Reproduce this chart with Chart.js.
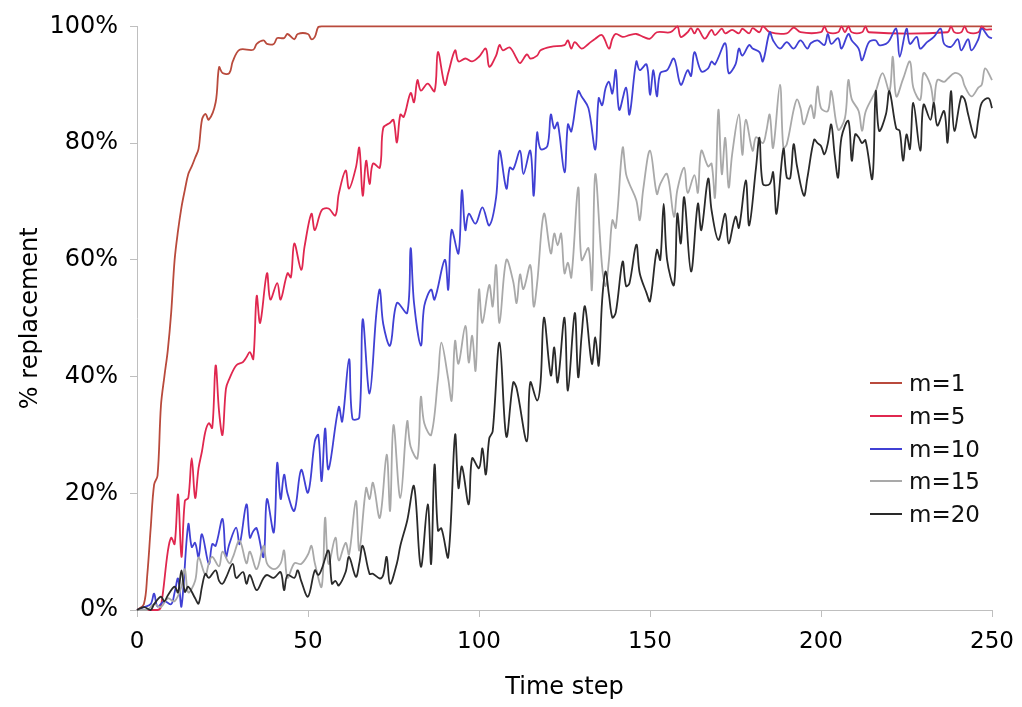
<!DOCTYPE html>
<html>
<head>
<meta charset="utf-8">
<script src="https://cdn.jsdelivr.net/npm/chart.js@4/dist/chart.umd.min.js"></script>
<style>
html,body{margin:0;padding:0;background:#fff;}
#wrap{position:relative;width:1022px;height:707px;overflow:hidden;}
#legend{position:absolute;left:870px;top:367px;font-family:"DejaVu Sans",sans-serif;font-size:23px;color:#111;}
.row{height:32.7px;display:flex;align-items:center;}
.sw{width:32px;height:2px;margin-right:7px;}
</style>
</head>
<body>
<div id="wrap"><canvas id="c" width="1022" height="707"></canvas><div id="legend"></div></div>
<script>
// ---- data (time step, % replacement) ----
const seriesLabels = ['m=1', 'm=5', 'm=10', 'm=15', 'm=20'];
const xTickValues = [0, 50, 100, 150, 200, 250];
const yTickLabels = ['0%', '20%', '40%', '60%', '80%', '100%'];

const m1 = [[0,0],[2,1],[3,6],[4,14],[5,21.5],[6,23],[7,35],[8,40],[9,44.5],[10,51],[11,60],[12,65],[13,69],[14,72],[15,74.7],[16,76],[17,77.5],[18,79],[19,84],[20,85],[21,84],[23,87],[24,93],[25,92],[27,92],[28,94],[30,96],[34,96],[35,97],[37,97.6],[38,97],[40,97],[41,98],[43,98],[44,98.7],[46,97.8],[47,98.7],[50,98.7],[51,97.8],[52,98.2],[53,99.9],[54,100],[250,100]];

const m5 = [[0,0],[6,0],[7,0.6],[9,10],[10,12.4],[11,11.3],[12,19.8],[13,9.1],[14,18.7],[15,19.2],[16,26],[17,19.2],[18,24.3],[19,27.2],[20,30.6],[21,32],[22,31.2],[23,41.9],[24,34],[25,30],[26,37.9],[27,39.6],[29,41.9],[31,42.5],[32,43.3],[33,44.2],[34,43],[35,53.8],[36,49.2],[38,57.7],[39,53.2],[41,56],[42,53.2],[44,57.7],[45,57],[46,62.8],[48,58.3],[49,62.3],[51,67.9],[52,65.1],[54,68.5],[56,68.8],[58,67.6],[59,71.3],[61,75.3],[62,72.2],[64,75.8],[65,79.2],[66,71],[67,77],[68,73],[69,76.5],[71,75.8],[72,82.6],[74,83.5],[75,84],[76,80.1],[77,84.9],[78,84.5],[80,88.6],[81,87],[82,90.8],[83,89],[85,90.2],[87,88.9],[88,95.6],[90,90],[91,92],[93,95.9],[94,94],[96,94.5],[98,94],[100,94.8],[102,96.2],[103,93.1],[105,95],[106,96.8],[107,95.9],[109,96.4],[111,94.5],[112,93.7],[114,95.2],[115,94.5],[117,95],[118,95.9],[121,96.5],[125,96.8],[126,97.6],[127,96.2],[128,97.3],[130,96.2],[132,97],[134,97.9],[136,98.5],[138,96.2],[139,97.9],[140,98.7],[142,98.2],[144,98.5],[146,98.7],[148,98.2],[150,97.9],[152,99],[156,99],[158,100],[159,98.2],[161,99],[162,99.7],[163,98.8],[164,99.6],[166,97.9],[168,99.4],[169,98.5],[171,99.6],[172,98.8],[174,99.4],[176,98.8],[177,99.6],[179,98.8],[180,99.7],[182,99],[183,100],[185,99],[190,98.8],[192,99.8],[194,99],[200,99],[201,100],[202,99],[205,99],[206,100],[207,99],[208,100],[209,99],[212,99],[213,100],[214,99],[237,99],[238,100],[239,99],[241,99],[242,100],[243,99],[246,99],[247,100],[248,99.5],[250,99.5]];

const m10 = [[0,0],[2,0.5],[4,1],[5,2.8],[6,0.6],[8,1.5],[10,1],[11,3],[12,5.4],[13,0.6],[15,14.7],[16,10.8],[17,11.5],[18,9.1],[19,13],[21,7.9],[22,11.3],[23,11],[25,15.6],[26,9.1],[27,11.3],[29,14.1],[30,11.3],[32,18.1],[33,12.4],[34,13.5],[35,14],[37,9.1],[38,19],[40,13.3],[41,25.2],[42,19],[43,23.2],[44,20],[46,17],[48,24],[50,20.1],[52,28.9],[53,30],[54,22.1],[55,31.1],[56,24.1],[59,34.8],[60,32.3],[62,43],[63,32.8],[65,33],[66,49.8],[68,37.1],[70,50.9],[71,54.9],[72,49],[74,45.3],[76,52.6],[79,50.9],[80,62],[81,52.6],[83,45.3],[84,52.1],[86,54.9],[87,53.2],[90,60],[91,54.9],[92,65.1],[94,61.1],[95,71.9],[96,65.1],[97,67.9],[99,66.2],[101,69],[103,65.9],[105,70.7],[106,78.7],[108,72.2],[109,75.8],[110,75.5],[112,78.7],[113,74.7],[115,78.7],[116,71],[117,81.8],[118,79],[120,79.5],[121,84.9],[122,82.5],[123,83.5],[125,75],[126,83.2],[127,82],[129,88.9],[130,88],[132,86],[134,78.9],[135,87.7],[136,86.5],[137,89.4],[138,90.5],[139,88.5],[140,92.5],[141,85.7],[143,89.5],[144,84.9],[146,94],[147,92.5],[149,93.5],[150,88.3],[151,92.5],[152,88],[153,92],[155,92.5],[157,94.5],[159,90],[161,92.5],[162,91.5],[163,95.6],[165,92.3],[167,92.8],[168,94],[169,93.5],[172,97.1],[173,92],[175,93.5],[176,96.2],[177,95],[179,96.8],[180,96.2],[182,95.6],[183,94],[185,99],[186,97.6],[188,96.2],[190,97.3],[192,96.2],[194,97.6],[196,96.2],[197,97.1],[199,97.6],[201,96.8],[202,98.7],[203,97],[205,98],[206,96.2],[208,98.7],[209,97.6],[211,96.2],[212,94.2],[214,97.3],[216,97.6],[217,96.8],[219,97],[220,97.6],[222,99.6],[223,94.8],[225,99.6],[226,97],[228,98.2],[229,96.2],[231,97.3],[233,98.2],[235,99.6],[236,97],[238,96.5],[240,97.8],[241,95.9],[243,97.8],[244,95.9],[246,97.8],[247,99.6],[249,98.2],[250,98]];

const m15 = [[0,0],[3,0],[5,1],[7,0.5],[9,2],[11,1.5],[13,4],[14,7],[15,3],[17,5],[18,9],[20,6],[21,8],[22,9.1],[24,7.5],[25,10],[27,8],[28,9],[30,11.9],[32,8],[33,10],[35,7],[37,11],[38,8],[40,7],[42,8],[43,10.2],[44,5.5],[46,8],[48,7.9],[50,9.5],[51,11],[52,8],[54,4],[55,15.8],[56,7.9],[58,12.4],[59,8.5],[61,11.5],[62,9.5],[64,18.7],[65,10.2],[67,20.9],[68,19],[69,21.8],[71,15.8],[73,26.6],[74,17],[75,31.7],[77,19.2],[79,32.3],[80,28],[82,26],[83,36.5],[84,32],[86,30],[88,39.6],[89,45.8],[91,39.6],[92,35.9],[93,46.1],[94,42.2],[96,48.7],[97,42.4],[98,47],[99,41],[100,54.9],[101,49.2],[103,55.7],[104,52],[105,59.1],[106,49.2],[108,60],[110,56.3],[111,52.6],[112,57.5],[113,55],[115,59.1],[116,52],[117,56],[119,67.9],[121,61.1],[122,64.5],[123,62.5],[124,64.5],[125,57.7],[126,59.5],[127,57],[129,72.4],[130,60],[132,62],[133,54.9],[134,74.7],[136,58.8],[137,55.5],[138,60],[139,66.8],[140,65.5],[142,79.2],[143,74.7],[144,73],[146,70.2],[147,66.8],[148,72],[150,78.7],[152,71.3],[153,73],[155,74.7],[157,67.4],[158,72],[160,75.8],[161,71.5],[163,74.5],[164,71.5],[165,78.7],[167,76],[168,76.5],[169,70.7],[170,85.7],[171,74.7],[172,80.9],[173,72.4],[174,78],[176,84.9],[177,78],[178,84],[180,78.7],[181,81],[183,80],[184,82],[185,84.9],[186,79.2],[188,90],[189,79.2],[190,79.8],[192,85.7],[193,87.5],[194,86],[195,83.2],[197,86.5],[198,84.3],[199,89.7],[200,86],[202,85.5],[203,88.9],[205,82.3],[207,84.3],[208,90.8],[209,87.5],[211,85.5],[212,82.1],[213,85.3],[215,87.8],[216,88.9],[218,92],[220,88.9],[221,94.8],[222,88],[224,91],[226,94],[227,89.5],[229,87.4],[230,92],[232,90],[233,86.9],[234,90.8],[236,90.5],[237,91],[239,92],[241,91.5],[242,89.8],[244,88],[246,89.5],[247,90],[248,92.8],[250,90.8]];

const m20 = [[0,0],[2,0.5],[4,0],[5,1],[7,2.3],[8,1.5],[9,2.5],[11,4],[12,3],[13,6.8],[14,3.1],[15,4],[17,2],[18,1.1],[19,4],[20,6.2],[21,5.5],[23,6.8],[24,5],[25,4.5],[26,5.5],[28,7.9],[29,5.5],[31,6.5],[32,4.5],[33,6],[35,3.4],[37,5.5],[38,6],[40,5.5],[42,6.5],[43,3.4],[44,6],[46,5.5],[47,6.8],[48,5],[50,2.3],[52,6.8],[53,6],[54,7],[56,10.2],[57,4.5],[58,5],[59,4.2],[61,6.5],[62,9.1],[64,5.7],[65,8],[66,11],[68,6.2],[69,6.2],[71,5.4],[72,6],[73,9.1],[74,4.5],[76,8],[77,11],[79,15.3],[81,21.2],[83,7.4],[85,18.1],[86,7.9],[87,24.9],[88,13.6],[89,14],[91,9.1],[93,30],[94,20.9],[95,24.6],[97,18.1],[98,26],[100,24.3],[101,27.7],[102,23.2],[103,29.4],[104,30.6],[106,45.8],[108,29.7],[110,39],[111,38],[114,28.9],[115,39],[117,35.9],[118,39],[119,50.1],[121,40.2],[122,45],[123,39],[125,50.1],[126,37.6],[128,50.9],[129,39.9],[130,47],[131,52],[133,42.2],[134,46.7],[135,41.9],[136,53],[137,58],[138,54],[139,50.1],[140,51],[142,59.7],[143,55.5],[144,56],[146,62.6],[147,57.7],[149,54.3],[150,52.9],[152,61.7],[153,60],[154,69.6],[155,60],[157,55.7],[158,67.9],[159,62.8],[160,70.7],[162,58],[164,69.6],[165,65.1],[167,73.9],[168,68.5],[170,63.4],[172,67.9],[173,62.8],[175,67.4],[176,65.5],[178,73.6],[179,65.9],[181,75.8],[182,80.9],[183,73],[185,73],[186,75],[187,67.9],[189,79],[190,74.1],[191,74],[192,79.8],[193,76],[195,71],[196,74],[198,80.6],[199,80],[200,79.5],[201,78.1],[202,80],[203,83.2],[204,78],[205,74.1],[206,81],[208,83.8],[209,77],[210,81.5],[211,81],[212,80],[213,80.5],[215,73.9],[216,88.9],[217,82.1],[219,85],[220,88.9],[222,82.5],[223,82.1],[224,77],[225,81.5],[226,79],[227,86.9],[229,78.7],[230,86.6],[232,84],[233,86.9],[234,83],[236,85.5],[237,80.1],[238,88.9],[239,82.1],[241,88],[242,87.5],[243,85],[245,80.9],[246,84],[247,86.9],[249,87.7],[250,86]];

const seriesData = [m1, m5, m10, m15, m20];
const seriesColors = ['#b94a3c', '#e0274f', '#4040d4', '#a9a9a9', '#2a2a2a'];

const FONT = '"DejaVu Sans", Verdana, sans-serif';
const AXIS = '#bfbfbf';

const datasets = seriesData.map((s, i) => ({
  label: seriesLabels[i],
  data: s.map(p => ({x: p[0], y: p[1]})),
  borderColor: seriesColors[i],
  backgroundColor: seriesColors[i],
  borderWidth: 1.8,
  pointRadius: 0,
  tension: 0.35,
  fill: false,
  order: seriesData.length - i,
  clip: {left: 2, top: 3, right: 2, bottom: 2}
}));

new Chart(document.getElementById('c'), {
  type: 'line',
  data: {datasets},
  options: {
    responsive: false,
    animation: false,
    events: [],
    layout: {padding: {top: 21, right: 30, left: 0, bottom: 0}},
    plugins: {legend: {display: false}, tooltip: {enabled: false}},
    scales: {
      x: {
        type: 'linear', min: 0, max: 250,
        afterFit: s => { s.height = 97; s.paddingRight = 20; },
        afterBuildTicks: s => { s.ticks = xTickValues.map(v => ({value: v})); },
        ticks: {font: {family: FONT, size: 23}, color: '#000', padding: 11, maxRotation: 0},
        grid: {drawOnChartArea: false, drawTicks: true, tickLength: 7, color: AXIS},
        border: {color: AXIS, width: 1},
        title: {display: true, text: 'Time step', font: {family: FONT, size: 24}, color: '#000', padding: {top: 0, bottom: 5}}
      },
      y: {
        min: 0, max: 100,
        afterFit: s => { s.width = 137; },
        afterBuildTicks: s => { s.ticks = yTickLabels.map((t, i) => ({value: i * 20})); },
        ticks: {font: {family: FONT, size: 24}, color: '#000', padding: 12,
                callback: (v) => yTickLabels[Math.round(v / 20)]},
        grid: {drawOnChartArea: false, drawTicks: true, tickLength: 7, color: AXIS},
        border: {color: AXIS, width: 1},
        title: {display: true, text: '% replacement', font: {family: FONT, size: 24}, color: '#000', padding: {top: 16, bottom: 0}}
      }
    }
  }
});

// legend (real text)
const lg = document.getElementById('legend');
seriesLabels.forEach((lab, i) => {
  const row = document.createElement('div');
  row.className = 'row';
  const sw = document.createElement('span');
  sw.className = 'sw';
  sw.style.background = seriesColors[i];
  const tx = document.createElement('span');
  tx.textContent = lab;
  row.appendChild(sw);
  row.appendChild(tx);
  lg.appendChild(row);
});
</script>
</body>
</html>
